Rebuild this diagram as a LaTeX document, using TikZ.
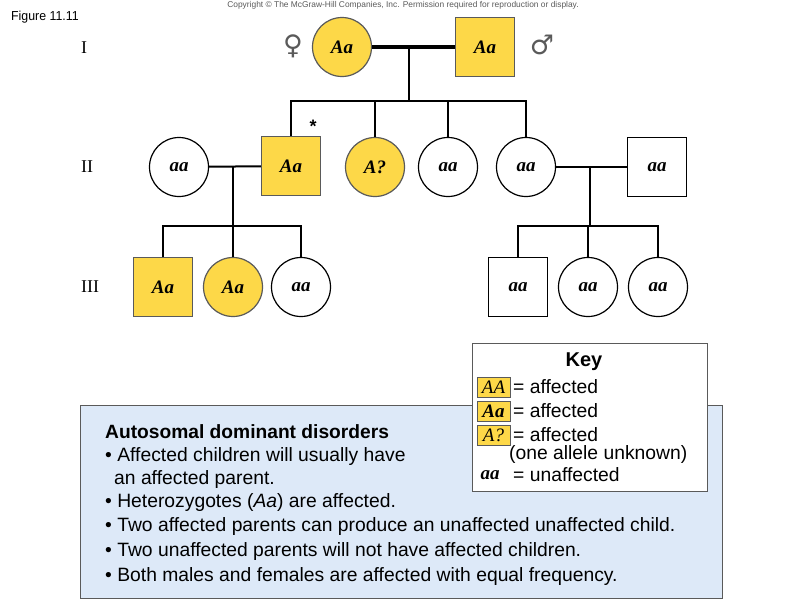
\documentclass[tikz,border=0pt]{standalone}
\usepackage{fontspec}
\setmainfont{Liberation Sans}
\newfontfamily\pedfont{Liberation Serif}
\newfontfamily\symfont{DejaVu Sans}
\usetikzlibrary{shapes.geometric,positioning}
\definecolor{pedyellow}{RGB}{253,216,72}
\definecolor{keyblue}{RGB}{221,233,248}
\definecolor{edgegray}{RGB}{90,90,90}

\begin{document}
\begin{tikzpicture}[x=1pt, y=-1pt,
    every node/.style={inner sep=0pt, font=\fontsize{19.3}{21}\selectfont},
    person/.style={draw=black, line width=1.2pt, font=\pedfont\bfseries\itshape\fontsize{19}{20}\selectfont},
    fem/.style={person, ellipse, minimum width=59pt, minimum height=59pt},
    mal/.style={person, rectangle, minimum width=59pt, minimum height=59pt},
    aff/.style={fill=pedyellow, draw=edgegray},
    link/.style={line width=2pt},
    tag/.style={draw=edgegray, line width=1pt, fill=pedyellow, minimum width=33pt, minimum height=20pt, font=\pedfont\itshape\fontsize{19}{20}\selectfont},
    gen/.style={anchor=west, font=\pedfont\fontsize{18}{20}\selectfont},
    body/.style={anchor=west}
]
\useasboundingbox (0,0) rectangle (800,600);

\node[anchor=west, font=\fontsize{13}{14}\selectfont] (fig) at (11,17) {\scalebox{0.95}[1]{Figure 11.11}};
\node[text=edgegray, font=\fontsize{8.4}{9}\selectfont] (copy) at (403,5) {Copyright © The McGraw-Hill Companies, Inc. Permission required for reproduction or display.};

\node[gen] (g1) at (81,48) {I};
\node[gen] (g2) at (81,167) {II};
\node[gen] (g3) at (81,287) {III};

\node[fem, aff] (i1) at (342,47) {Aa};
\node[mal, aff] (i2) at (485,47) {Aa};
\node[text=edgegray, font=\symfont\fontsize{27}{28}\selectfont] (venus) at (293,46) {♀};
\node[text=edgegray, font=\symfont\fontsize{27}{28}\selectfont] (mars) at (542,45) {♂};

\node[fem] (ii1) at (179,167) {aa};
\node[mal, aff] (ii2) at (291,166) {Aa};
\node[fem, aff] (ii3) at (375,167) {A?};
\node[fem] (ii4) at (448,167) {aa};
\node[fem] (ii5) at (526,167) {aa};
\node[mal] (ii6) at (657,167) {aa};
\node[font=\bfseries\fontsize{18}{20}\selectfont] (star) at (313,126) {*};

\node[mal, aff] (iii1) at (163,287) {Aa};
\node[fem, aff] (iii2) at (233,287) {Aa};
\node[fem] (iii3) at (301,287) {aa};
\node[mal] (iii4) at (518,287) {aa};
\node[fem] (iii5) at (588,287) {aa};
\node[fem] (iii6) at (658,287) {aa};

\coordinate (m1) at (409,47);
\coordinate (s1) at (409,101);
\coordinate (m2) at (233,167);
\coordinate (s2) at (233,226);
\coordinate (m3) at (590,167);
\coordinate (s3) at (590,226);

\draw[line width=3.2pt] (i1) -- (i2);
\draw[link] (m1) -- (s1);
\draw[link] (ii2.north) |- (s1) -| (ii5.north);
\draw[link] (ii3.north) -- (ii3.north |- s1);
\draw[link] (ii4.north) -- (ii4.north |- s1);

\draw[link] (ii1) -- (ii2);
\draw[link] (m2) -- (s2);
\draw[link] (iii1.north) |- (s2) -| (iii3.north);
\draw[link] (iii2.north) -- (s2);

\draw[link] (ii5) -- (ii6);
\draw[link] (m3) -- (s3);
\draw[link] (iii4.north) |- (s3) -| (iii6.north);
\draw[link] (iii5.north) -- (iii5.north |- s3);

\draw[edgegray, fill=keyblue, line width=1pt] (80,405) rectangle (722,598);
\node[anchor=west, font=\bfseries\fontsize{19.2}{21}\selectfont] (head) at (105,432) {Autosomal dominant disorders};
\node[body] (b1) at (105,457) {• Affected children will usually have};
\node[body] (b1x) at (114,480) {an affected parent.};
\node[body] (b2) at (105,503) {• Heterozygotes (\textit{Aa}) are affected.};
\node[body] (b3) at (105,527) {• Two affected parents can produce an unaffected unaffected child.};
\node[body] (b4) at (105,551) {• Two unaffected parents will not have affected children.};
\node[body] (b5) at (105,576) {• Both males and females are affected with equal frequency.};

\node[draw=edgegray, fill=white, line width=1pt, minimum width=235pt, minimum height=148pt] (key) at (589.5,417) {};
\node[font=\bfseries\fontsize{20}{21}\selectfont] (keyt) at (584,362) {Key};
\node[tag] (kAA) at (493.5,387) {AA};
\node[body] (kAAt) at (513,387) {= affected};
\node[tag, font=\pedfont\bfseries\itshape\fontsize{19}{20}\selectfont] (kAa) at (493.5,411) {Aa};
\node[body] (kAat) at (513,411) {= affected};
\node[tag] (kAq) at (493.5,435) {A?};
\node[body] (kAqt) at (513,435) {= affected};
\node[body] (kunk) at (509,454) {(one allele unknown)};
\node[font=\pedfont\bfseries\itshape\fontsize{19}{20}\selectfont] (kaa) at (490,475) {aa};
\node[body] (kaat) at (513,475) {= unaffected};
\end{tikzpicture}
\end{document}
